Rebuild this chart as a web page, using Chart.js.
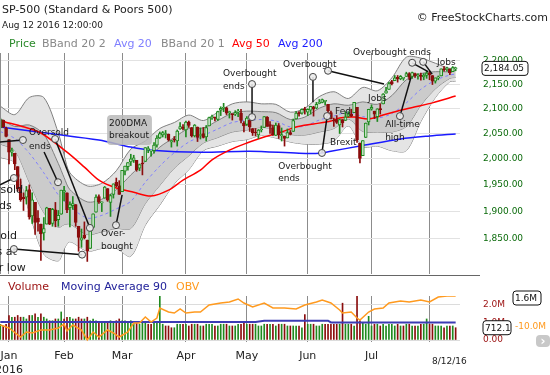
<!DOCTYPE html>
<html>
<head>
<meta charset="utf-8">
<script src="https://cdn.jsdelivr.net/npm/chart.js@4.4.1/dist/chart.umd.min.js"></script>
<style>
  body { margin: 0; background: #fff; font-family: 'DejaVu Sans', sans-serif; }
  #wrap { position: relative; width: 550px; height: 375px; overflow: hidden; }
  canvas { position: absolute; left: 0; }
  .t { position: absolute; white-space: nowrap; line-height: 1; }
</style>
</head>
<body>
<div id="wrap">
  <canvas id="price" width="550" height="277" style="top:0"></canvas>
  <canvas id="vol" width="550" height="100" style="top:275px"></canvas>

  <div class="t" style="left:2px;top:4px;font-size:11px;color:#222">SP-500 (Standard &amp; Poors 500)</div>
  <div class="t" style="left:2px;top:21px;font-size:9px;color:#222">Aug 12 2016 12:00:00</div>
  <div class="t" style="right:2px;top:12px;font-size:11px;color:#222">© FreeStockCharts.com</div>

  <div class="t" style="left:9px;top:38px;font-size:11px;color:#2a8a2a">Price</div>
  <div class="t" style="left:42px;top:38px;font-size:11px;color:#888">BBand 20 2</div>
  <div class="t" style="left:114px;top:38px;font-size:11px;color:#7f7fff">Avg 20</div>
  <div class="t" style="left:161px;top:38px;font-size:11px;color:#888">BBand 20 1</div>
  <div class="t" style="left:232px;top:38px;font-size:11px;color:#f00">Avg 50</div>
  <div class="t" style="left:278px;top:38px;font-size:11px;color:#1a1aff">Avg 200</div>

  <div class="t" style="left:8px;top:281px;font-size:11px;color:#9b1010">Volume</div>
  <div class="t" style="left:61px;top:281px;font-size:11px;color:#22229a">Moving Average 90</div>
  <div class="t" style="left:176px;top:281px;font-size:11px;color:#ff9a1f">OBV</div>
  <div class="t" style="left:432px;top:357px;font-size:9px;color:#222">8/12/16</div>
  <div class="t" style="left:536px;top:335px;width:14px;height:12px;border-radius:4px;background:#c8c8c8;color:#fff;font-size:12px;font-weight:bold;text-align:center;line-height:12px">›</div>
</div>

<script>
// trading days Dec 29 2015 .. Aug 12 2016, one entry per day
const opens = [
  2061,2077,2061,2038,2013,2011,1985,1945,1927,1927,
  1941,1892,1917,1888,1877,1861,1877,1906,1878,1903,
  1885,1895,1936,1935,1907,1911,1913,1873,1848,1857,
  1848,1833,1871,1899,1928,1916,1925,1943,1917,1932,
  1955,1947,1937,1976,1985,1994,1997,1997,1982,1991,
  1995,2018,2015,2016,2027,2041,2047,2048,2049,2033,
  2038,2035,2059,2063,2057,2073,2062,2045,2063,2046,
  2050,2043,2065,2082,2083,2078,2097,2101,2102,2092,
  2089,2089,2093,2091,2071,2068,2077,2060,2053,2047,
  2057,2062,2083,2068,2062,2046,2066,2045,2045,2041,
  2052,2054,2079,2091,2091,2100,2093,2097,2104,2101,
  2111,2113,2115,2109,2092,2077,2078,2067,2078,2076,
  2085,2089,2092,2103,2031,2006,2042,2073,2099,2095,
  2084,2100,2110,2132,2140,2156,2158,2165,2162,2163,
  2167,2173,2167,2173,2168,2170,2166,2169,2174,2169,
  2157,2164,2168,2183,2182,2182,2177,2183
];
const highs = [
  2081,2077,2063,2038,2021,2011,1985,1961,1935,1947,
  1950,1935,1917,1902,1877,1889,1908,1906,1906,1917,
  1902,1940,1947,1935,1918,1928,1913,1873,1868,1881,
  1848,1865,1896,1931,1931,1918,1947,1943,1932,1952,
  1963,1958,1978,1986,1993,2009,2007,1997,1990,2005,
  2022,2024,2016,2032,2046,2053,2054,2056,2049,2036,
  2044,2057,2072,2068,2075,2075,2062,2068,2063,2061,
  2062,2066,2083,2087,2083,2095,2104,2111,2103,2095,
  2089,2096,2099,2099,2074,2084,2077,2060,2060,2058,
  2065,2084,2084,2074,2067,2071,2070,2061,2045,2059,
  2056,2079,2094,2094,2100,2103,2100,2105,2105,2113,
  2119,2120,2117,2109,2095,2081,2086,2079,2078,2094,
  2094,2099,2113,2103,2031,2036,2071,2099,2108,2095,
  2100,2110,2131,2144,2155,2159,2169,2169,2169,2164,
  2176,2175,2176,2174,2173,2174,2173,2178,2178,2169,
  2164,2168,2183,2188,2187,2183,2188,2186
];
const lows = [
  2061,2062,2043,1990,2005,1979,1938,1919,1902,1914,
  1886,1878,1858,1864,1812,1848,1877,1876,1873,1872,
  1873,1895,1920,1898,1872,1904,1873,1828,1835,1850,
  1810,1833,1871,1899,1915,1900,1925,1919,1891,1925,
  1946,1932,1937,1969,1978,1987,1993,1976,1977,1969,
  1995,2012,2005,2011,2023,2040,2043,2041,2035,2023,
  2033,2025,2058,2057,2043,2062,2043,2043,2034,2039,
  2041,2035,2065,2078,2075,2076,2086,2094,2088,2081,
  2077,2086,2084,2071,2053,2066,2054,2046,2045,2040,
  2053,2062,2064,2050,2046,2046,2040,2035,2025,2041,
  2047,2054,2079,2085,2089,2089,2086,2089,2085,2100,
  2110,2112,2108,2086,2079,2064,2070,2050,2063,2076,
  2083,2084,2092,2032,1992,2006,2042,2067,2097,2080,
  2074,2089,2110,2132,2140,2149,2158,2155,2160,2159,
  2167,2160,2163,2165,2161,2159,2160,2163,2160,2150,
  2153,2160,2168,2178,2178,2171,2177,2179
];
const closes = [
  2078,2063,2044,2013,2017,1990,1943,1922,1924,1939,
  1890,1922,1880,1881,1859,1869,1907,1877,1904,1883,
  1893,1940,1939,1903,1913,1915,1880,1853,1852,1852,
  1829,1865,1896,1927,1918,1918,1946,1921,1930,1952,
  1948,1932,1978,1986,1993,2000,2002,1979,1989,1990,
  2022,2020,2016,2027,2041,2050,2052,2050,2037,2036,
  2037,2055,2064,2060,2073,2066,2045,2067,2042,2048,
  2042,2062,2082,2083,2081,2094,2101,2102,2091,2092,
  2088,2092,2095,2076,2065,2081,2063,2051,2051,2057,
  2059,2084,2064,2064,2047,2067,2047,2048,2040,2052,
  2048,2076,2091,2090,2099,2097,2099,2105,2099,2109,
  2112,2119,2115,2096,2079,2075,2072,2078,2071,2083,
  2089,2085,2113,2037,2001,2036,2071,2099,2103,2089,
  2100,2098,2130,2137,2152,2152,2164,2162,2167,2164,
  2173,2165,2175,2168,2169,2167,2170,2174,2171,2157,
  2164,2164,2183,2181,2182,2175,2186,2184.05
];
// volume, in the panel's "M" units
const volumes = [
  0.9,0.8,0.9,
  1.4,1.3,1.3,1.4,1.3,1.3,1.2,1.4,1.4,1.5,1.3,1.5,1.3,1.2,1.1,1.1,1.2,1.2,1.6,
  1.2,1.3,1.3,1.2,1.2,1.3,1.2,1.2,1.3,1.1,1.2,1.1,1.0,1.0,1.0,1.0,1.1,1.0,1.1,1.2,
  1.1,1.1,1.0,1.1,1.0,1.0,0.9,1.0,1.0,0.9,0.9,1.0,1.0,2.6,0.9,0.8,0.8,0.7,0.7,0.9,0.9,0.9,
  0.9,0.8,0.9,0.9,0.9,0.8,0.8,0.9,0.9,0.9,0.8,0.8,0.9,0.9,0.9,0.8,0.8,0.8,0.9,0.9,1.0,
  0.9,0.9,0.9,0.9,0.8,0.8,0.9,0.9,0.9,0.9,0.8,0.9,0.9,0.9,0.8,0.8,0.8,0.8,0.8,0.7,1.45,
  0.9,0.9,0.9,0.8,0.8,0.9,0.9,0.9,0.9,0.9,0.9,0.9,2.1,0.9,0.9,0.9,0.8,2.5,1.1,1.0,0.9,1.35,
  0.8,0.9,0.9,0.8,0.9,0.8,0.9,0.9,0.8,0.9,0.8,0.8,0.9,0.9,0.8,0.8,0.8,0.9,0.9,1.2,
  0.9,0.9,0.8,0.8,0.8,0.7,0.8,0.8,0.8,0.7
];

// Bollinger bands and average lines at these days
const bandDays = [0,5,10,15,20,22,24,30,35,40,45,50,55,60,65,70,75,80,85,90,95,100,105,110,115,120,125,130,135,140,145,150,155,157];
const outerUp = [2105,2088,2123,2123,2051,2008,1973,1948,1953,1977,2019,2035,2060,2072,2087,2076,2093,2110,2114,2110,2109,2093,2101,2125,2135,2121,2144,2137,2164,2208,2206,2195,2184,2187];
const innerUp = [2080,2064,2067,2048,1991,1964,1941,1918,1923,1941,1969,1995,2023,2042,2060,2061,2076,2091,2095,2094,2092,2078,2083,2101,2110,2107,2114,2109,2127,2160,2173,2177,2177,2180];
const avg20 = [2054,2040,2011,1973,1931,1920,1909,1888,1893,1905,1919,1955,1986,2012,2033,2046,2059,2072,2076,2078,2075,2063,2065,2077,2085,2093,2084,2081,2090,2112,2140,2159,2170,2172];
const innerLo = [2029,2016,1955,1898,1871,1876,1877,1858,1863,1869,1869,1915,1949,1982,2006,2031,2042,2053,2057,2062,2058,2048,2047,2053,2060,2079,2054,2053,2053,2064,2107,2141,2163,2165];
const outerLo = [2003,1992,1899,1823,1811,1832,1845,1828,1833,1833,1819,1875,1912,1952,1979,2016,2025,2034,2038,2046,2041,2033,2029,2029,2035,2065,2024,2025,2016,2016,2074,2123,2156,2157];

const avg50Days = [0,7,14,23,29,34,40,46,52,58,63,69,73,79,85,91,97,102,108,114,117,122,127,132,138,144,149,157];
const avg50 = [2075,2065,2051,2013,1984,1959,1944,1936,1929,1940,1959,1978,1998,2017,2031,2043,2053,2063,2069,2075,2081,2083,2079,2087,2097,2105,2112,2126];
const avg200Days = [0,17,34,45,52,69,86,103,110,114,124,138,148,157];
const avg200 = [2063,2050,2037,2023,2017,2013,2015,2011,2011,2015,2025,2039,2045,2049];

const volAvgDays = [0,88,91,113,114,157];
const volAvg = [1.03,1.03,1.1,1.1,1.0,1.0];
const obvDays = [0,3,7,9,11,14,17,20,22,23,25,28,30,32,34,37,39,41,44,46,48,50,52,54,55,58,60,62,64,67,69,72,76,79,82,84,87,91,94,98,102,105,109,111,114,117,118,121,123,124,127,129,132,134,138,141,145,148,151,154,157];
const obv = [-8,-11,-20,-15,-16,-13,-13,-11,-7,-14,-8,-13,-23,-15,-20,-13,-16,-20,-15,-6,-6,0,-5,-1,9,5,4,8,4,5,5,12,14,15,18,14,10,14,9,9,8,12,15,17,14,7,4,5,-1,-3,5,8,9,14,16,15,17,15,20,21,21];

const monthStarts = [3,22,42,64,85,106,128,148];
const monthNames = [['Jan','2016'],'Feb','Mar','Apr','May','Jun','Jul',''];
const priceTicks = [1850,1900,1950,2000,2050,2100,2150,2200];
const volTicks = [0,1,2];

// chart notes: text anchored at [day, price]
const notes = [
  { lines: ['Overbought','ends'], at: [76.8, 2172] },
  { lines: ['Overbought'], at: [97.5, 2191] },
  { lines: ['Overbought ends'], at: [121.6, 2217] },
  { lines: ['Overbought','ends'], at: [95.8, 1984], lh: 12 },
  { lines: ['Fed'], at: [115.4, 2095] },
  { lines: ['Brexit'], at: [113.7, 2031] },
  { lines: ['Jobs'], at: [126.8, 2120] },
  { lines: ['All-time','high'], at: [132.7, 2067] },
  { lines: ['Jobs'], at: [150.6, 2196] },
  { lines: ['200DMA','breakout'], at: [37.5, 2069], lh: 12, box: true },
  { lines: ['Over-','bought'], at: [34.7, 1859] },
  { lines: ['Oversold','ends'], at: [9.9, 2051], lh: 14 },
  { lines: ['Oversold','ends'], at: [-0.6, 1940], size: 11, lh: 16, align: 'center' },
  { lines: ['Oversold','closes at','higher low'], at: [-11.1, 1855], size: 11, lh: 16 }
];
// pointer lines: [from, to, circle at from, circle at to]
const pointers = [
  [[86.8, 2151], [86.8, 2083], true, true],
  [[107.8, 2166], [107.8, 2113], true, false],
  [[113, 2179], [132.3, 2151], true, false],
  [[142, 2196], [147.5, 2177], true, false],
  [[145.8, 2198], [148.9, 2172], true, false],
  [[110.9, 2011.5], [112.7, 2085], true, true],
  [[137.8, 2085], [141.6, 2165], true, false],
  [[39.9, 1875], [42, 1931], true, false],
  [[15.1, 2013.5], [19.9, 1955], false, true],
  [[18.9, 2039], [30.9, 1870], true, true],
  [[7.8, 2037], [-0.45, 2033], true, false],
  [[4.7, 1963], [-0.1, 1950], true, false],
  [[4.7, 1832], [28.2, 1822], true, true]
];

const GREEN = '#1f8a1f';
const RED = '#8b0d0d';
const X_MIN = -0.1, X_MAX = 158.5;

Chart.defaults.font.family = "'DejaVu Sans', sans-serif";

const pts = (xs, ys) => xs.map((x, k) => ({ x, y: ys[k] }));
const upDay = closes.map((c, i) => c >= opens[i]);
const volUp = closes.map((c, i) => c >= (i ? closes[i - 1] : opens[i]));
function noPad(s) { s.paddingLeft = 0; s.paddingRight = 0; s.paddingTop = 0; s.paddingBottom = 0; }
const money = v => v.toLocaleString('en-US', { minimumFractionDigits: 2, maximumFractionDigits: 2 });

function tag(ctx, text, x, y, w) {
  ctx.beginPath();
  ctx.roundRect(x, y - 7, w, 14, 3);
  ctx.fillStyle = '#fff';
  ctx.fill();
  ctx.strokeStyle = '#111';
  ctx.lineWidth = 1;
  ctx.stroke();
  ctx.fillStyle = '#111';
  ctx.textAlign = 'left';
  ctx.textBaseline = 'middle';
  ctx.fillText(text, x + 2, y + 0.5);
}

const priceFrame = {
  id: 'priceFrame',
  afterDraw(chart) {
    const { ctx, chartArea: a, scales: { x, y } } = chart;
    ctx.save();
    ctx.strokeStyle = '#8c8c8c';
    ctx.lineWidth = 1;
    ctx.beginPath();
    ctx.moveTo(a.left + 0.5, a.top);
    ctx.lineTo(a.left + 0.5, a.bottom);
    ctx.stroke();
    ctx.strokeStyle = '#666';
    ctx.beginPath();
    ctx.moveTo(0, a.bottom + 1.5);
    ctx.lineTo(480, a.bottom + 1.5);
    ctx.stroke();

    // notes
    ctx.fillStyle = '#1a1a1a';
    notes.forEach(n => {
      const size = n.size || 9, lh = n.lh || 13;
      ctx.font = size + "px 'DejaVu Sans'";
      const px = x.getPixelForValue(n.at[0]);
      const py = y.getPixelForValue(n.at[1]);
      if (n.box) {
        const w = Math.max(...n.lines.map(l => ctx.measureText(l).width));
        ctx.beginPath();
        ctx.roundRect(px - 2, py - lh / 2 - 3, w + 5, lh * n.lines.length + 6, 4);
        ctx.fillStyle = 'rgba(185,185,185,0.85)';
        ctx.fill();
      }
      ctx.fillStyle = '#1a1a1a';
      ctx.textAlign = n.align || 'left';
      ctx.textBaseline = 'middle';
      n.lines.forEach((l, k) => ctx.fillText(l, px, py + k * lh));
    });
    pointers.forEach(([p0, p1, c0, c1]) => {
      const x0 = x.getPixelForValue(p0[0]), y0 = y.getPixelForValue(p0[1]);
      const x1 = x.getPixelForValue(p1[0]), y1 = y.getPixelForValue(p1[1]);
      ctx.strokeStyle = '#111';
      ctx.lineWidth = 1.5;
      ctx.beginPath();
      ctx.moveTo(x0, y0);
      ctx.lineTo(x1, y1);
      ctx.stroke();
      [[c0, x0, y0], [c1, x1, y1]].forEach(([on, cx, cy]) => {
        if (!on) return;
        ctx.beginPath();
        ctx.arc(cx, cy, 3.5, 0, Math.PI * 2);
        ctx.fillStyle = 'rgba(235,235,235,0.9)';
        ctx.fill();
        ctx.strokeStyle = '#444';
        ctx.lineWidth = 1;
        ctx.stroke();
      });
    });

    // last price tag
    const last = closes[closes.length - 1];
    ctx.font = "9px 'DejaVu Sans'";
    tag(ctx, money(last), a.right + 22, y.getPixelForValue(last), 46);
    ctx.restore();
  }
};

const volFrame = {
  id: 'volFrame',
  afterDraw(chart) {
    const { ctx, chartArea: a, scales } = chart;
    ctx.save();
    ctx.font = "9px 'DejaVu Sans'";
    ctx.fillStyle = '#ff9a1f';
    ctx.textAlign = 'left';
    ctx.textBaseline = 'middle';
    ctx.fillText('-10.0M', a.right + 55, scales.yo.getPixelForValue(-10));
    tag(ctx, '1.6M', a.right + 53, scales.yo.getPixelForValue(obv[obv.length - 1]) + 2, 28);
    tag(ctx, '712.1', a.right + 23, scales.y.getPixelForValue(volumes[volumes.length - 1]), 28);
    ctx.restore();
  }
};

const lineSet = (data, color, width, order, extra) => Object.assign({
  type: 'line', data, borderColor: color, borderWidth: width,
  pointRadius: 0, tension: 0.3, fill: false, order
}, extra || {});

new Chart(document.getElementById('price'), {
  type: 'bar',
  data: {
    datasets: [
      lineSet(pts(bandDays, outerUp), '#808080', 1, 10, { fill: 1, backgroundColor: '#e4e4e4' }),
      lineSet(pts(bandDays, outerLo), '#808080', 1, 10),
      lineSet(pts(bandDays, innerUp), '#808080', 1, 9, { fill: 3, backgroundColor: '#cbcbcb' }),
      lineSet(pts(bandDays, innerLo), '#808080', 1, 9),
      lineSet(pts(bandDays, avg20), '#8080ff', 1, 8, { borderDash: [3, 3] }),
      lineSet(pts(avg200Days, avg200), '#1a1aff', 1.5, 7),
      lineSet(pts(avg50Days, avg50), '#ff0000', 1.5, 6),
      {
        type: 'bar', data: lows.map((l, i) => ({ x: i, y: [l, highs[i]] })),
        backgroundColor: upDay.map(u => u ? GREEN : RED),
        barThickness: 1, grouped: false, order: 2
      },
      {
        type: 'bar', data: opens.map((o, i) => ({ x: i, y: [o, closes[i]] })),
        backgroundColor: upDay.map(u => u ? 'rgba(255,255,255,0.75)' : RED),
        borderColor: upDay.map(u => u ? GREEN : RED),
        borderWidth: 1, borderSkipped: false, barThickness: 3, minBarLength: 1,
        grouped: false, order: 1
      }
    ]
  },
  options: {
    responsive: false,
    animation: false,
    layout: { padding: { top: 53, bottom: 3, left: 0, right: 0 } },
    plugins: { legend: { display: false }, tooltip: { enabled: false } },
    scales: {
      x: {
        type: 'linear', min: X_MIN, max: X_MAX, offset: false,
        afterBuildTicks: s => { s.ticks = monthStarts.map(v => ({ value: v })); },
        ticks: { display: false },
        grid: { color: '#8c8c8c', drawTicks: false, offset: false },
        border: { display: false },
        afterFit: noPad
      },
      y: {
        type: 'logarithmic', position: 'right', min: 1788, max: 2217,
        afterBuildTicks: s => { s.ticks = priceTicks.map(v => ({ value: v })); },
        ticks: { color: '#0b6b0b', font: { size: 9 }, padding: 23, callback: v => money(v) },
        grid: { color: '#e2e2e2', drawTicks: false },
        border: { display: false },
        afterFit: s => { s.width = 90; noPad(s); }
      }
    }
  },
  plugins: [priceFrame]
});

new Chart(document.getElementById('vol'), {
  type: 'bar',
  data: {
    datasets: [
      {
        type: 'bar', data: volumes.map((v, i) => ({ x: i, y: v })),
        backgroundColor: volUp.map(u => u ? GREEN : RED),
        barThickness: 1, order: 3, yAxisID: 'y'
      },
      lineSet(pts(volAvgDays, volAvg), '#3c3cb4', 2, 2, { tension: 0, yAxisID: 'y' }),
      lineSet(pts(obvDays, obv), '#ff9a1f', 1.5, 1, { tension: 0, yAxisID: 'yo' })
    ]
  },
  options: {
    responsive: false,
    animation: false,
    layout: { padding: { top: 21, bottom: 0, left: 0, right: 0 } },
    plugins: { legend: { display: false }, tooltip: { enabled: false } },
    scales: {
      x: {
        type: 'linear', min: X_MIN, max: X_MAX, offset: false,
        afterBuildTicks: s => { s.ticks = monthStarts.map(v => ({ value: v })); },
        ticks: {
          color: '#222', font: { size: 11 }, padding: 8, maxRotation: 0, autoSkip: false,
          callback: v => monthNames[monthStarts.indexOf(v)]
        },
        grid: { color: '#8c8c8c', drawTicks: false, offset: false },
        border: { display: false },
        afterFit: s => { s.height = 33; noPad(s); }
      },
      y: {
        position: 'right', min: -0.114, max: 2.51,
        afterBuildTicks: s => { s.ticks = volTicks.map(v => ({ value: v })); },
        ticks: { color: '#9b1010', font: { size: 9 }, padding: 23, callback: v => v === 0 ? '0.00' : v.toFixed(1) + 'M' },
        grid: { color: c => c.tick && c.tick.value === 1 ? 'rgba(0,0,0,0)' : '#dcdcdc', drawTicks: false },
        border: { display: false },
        afterFit: s => { s.width = 90; noPad(s); }
      },
      yo: { display: false, min: -25, max: 21 }
    }
  },
  plugins: [volFrame]
});
</script>
</body>
</html>
